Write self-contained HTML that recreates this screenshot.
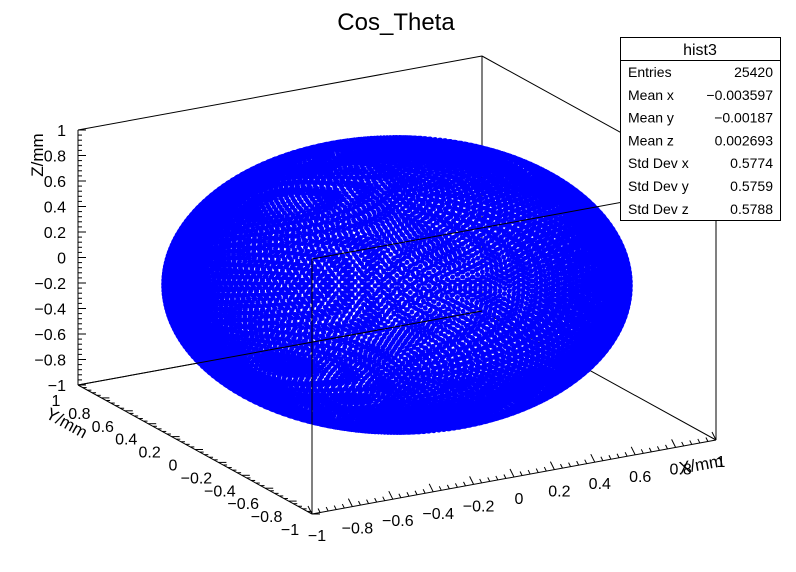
<!DOCTYPE html>
<html><head><meta charset="utf-8"><style>
html,body{margin:0;padding:0;background:#fff;}
svg{display:block;font-family:"Liberation Sans",Arial,sans-serif;}
</style></head><body>
<svg id="c" width="796" height="572" viewBox="0 0 796 572">
<text x="396" y="30" font-size="24" text-anchor="middle">Cos_Theta</text>
<g id="back"></g><g id="pts"></g><g id="front"></g><g id="ax"></g>
<g>
<rect x="620.5" y="37.5" width="160" height="183" fill="#fff" stroke="#000"/>
<line x1="620" y1="60.5" x2="780" y2="60.5" stroke="#000"/>
<text x="700" y="55" font-size="16" text-anchor="middle">hist3</text>
<g id="stats"></g>
</g>
</svg>
<script>
const statLabels=["Entries","Mean x","Mean y","Mean z","Std Dev x","Std Dev y","Std Dev z"];
const statValues=["25420","\u22120.003597","\u22120.00187","0.002693","0.5774","0.5759","0.5788"];
const zTicks=[-1,-0.8,-0.6,-0.4,-0.2,0,0.2,0.4,0.6,0.8,1];
const tickLabels=["\u22121","\u22120.8","\u22120.6","\u22120.4","\u22120.2","0","0.2","0.4","0.6","0.8","1"];
const nPoints=16000;
const NS="http://www.w3.org/2000/svg";
function mk(t,a,p){const e=document.createElementNS(NS,t);for(const k in a)e.setAttribute(k,a[k]);p.appendChild(e);return e;}
const O=[312,514],EX=[202,-37],EY=[-117,-64.5],EZ=[0,-127.5];
function P(x,y,z){return[O[0]+EX[0]*(x+1)+EY[0]*(y+1)+EZ[0]*(z+1),O[1]+EX[1]*(x+1)+EY[1]*(y+1)+EZ[1]*(z+1)];}
function line(g,a,b,name){const l=mk('line',{x1:a[0],y1:a[1],x2:b[0],y2:b[1],stroke:'#000','stroke-width':1},g);

return l;}
const back=document.getElementById('back'),front=document.getElementById('front'),ax=document.getElementById('ax');
line(back,P(-1,1,-1),P(1,1,-1),'box-edge');line(back,P(1,1,-1),P(1,-1,-1),'box-edge');
line(back,P(-1,1,1),P(1,1,1),'box-edge');line(back,P(1,1,1),P(1,-1,1),'box-edge');
line(back,P(1,1,-1),P(1,1,1),'box-edge');line(back,P(-1,1,-1),P(-1,1,1),'box-edge');
line(back,P(1,-1,-1),P(1,-1,1),'box-edge');
line(front,P(-1,-1,-1),P(-1,-1,1),'box-edge');line(front,P(-1,-1,1),P(1,-1,1),'box-edge');
line(front,P(-1,1,-1),P(1,1,-1),'box-edge');
const pg=document.getElementById('pts');let s='';
const ga=Math.PI*(3-Math.sqrt(5));
for(let i=0;i<nPoints;i++){const z=1-2*(i+0.5)/nPoints,r=Math.sqrt(1-z*z),t=ga*i;const q=P(r*Math.cos(t),r*Math.sin(t),z);s+=`M${(q[0]-2.4).toFixed(1)} ${q[1].toFixed(1)}a2.4 2.4 0 1 0 4.8 0a2.4 2.4 0 1 0 -4.8 0`;}
const sp=mk('path',{d:s,fill:'#0000ff'},pg);


line(ax,P(-1,-1,-1),P(1,-1,-1),'x-axis');line(ax,P(-1,-1,-1),P(-1,1,-1),'y-axis');line(ax,P(-1,1,-1),P(-1,1,1),'z-axis');
function txt(x,y,str,anchor,name,extra){const t=mk('text',Object.assign({x:x,y:y,'font-size':16,'text-anchor':anchor},extra||{}),ax);t.textContent=str;

return t;}
for(let i=0;i<=50;i++){const v=-1+i*0.04,major=i%5==0,len=major?8:4;
 let a=P(v,-1,-1);line(ax,a,[a[0]-len*0.5,a[1]-len],'x-tick');
 a=P(-1,v,-1);line(ax,a,[a[0]+len,a[1]],'y-tick');
 a=P(-1,1,v);line(ax,a,[a[0]+len,a[1]],'z-tick');}
zTicks.forEach((v,i)=>{let a=P(v,-1,-1);txt(a[0]+5,a[1]+27,tickLabels[i],'middle','x-tick-label');
 a=P(-1,v,-1);txt(a[0]-22,a[1]+21,tickLabels[i],'middle','y-tick-label');
 a=P(-1,1,v);txt(a[0]-12,a[1]+6,tickLabels[i],'end','z-tick-label');});
txt(0,0,'Z/mm','middle','z-axis-title',{transform:'translate(43,155) rotate(-90)','font-size':17});
txt(0,0,'Y/mm','middle','y-axis-title',{transform:'translate(64,428) rotate(29)','font-size':17});
txt(0,0,'X/mm','middle','x-axis-title',{transform:'translate(702,470) rotate(-10)','font-size':17});
const st=document.getElementById('stats');
statLabels.forEach((l,i)=>{const y=77+i*22.8;
 let t=mk('text',{x:628,y:y,'font-size':14},st);t.textContent=l;
 
 
 t=mk('text',{x:773,y:y,'font-size':14,'text-anchor':'end'},st);t.textContent=statValues[i];
 
 });
</script>
</body></html>
